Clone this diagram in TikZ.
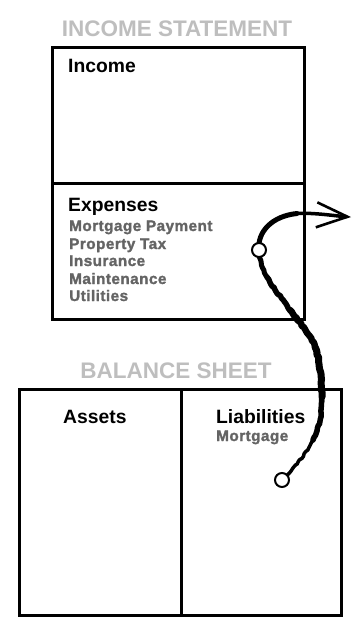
\documentclass[tikz,border=0pt]{standalone}
\usepackage{fontspec}
\setmainfont{Liberation Sans}
\newfontfamily\itemfont{Liberation Sans Bold}[FakeBold=1.6, LetterSpace=3]
\usetikzlibrary{arrows.meta,backgrounds,decorations.pathmorphing}
\definecolor{titlegray}{RGB}{190,190,190}
\definecolor{itemgray}{RGB}{100,100,100}
\tikzset{
  sheet/.style={draw, line width=3pt, inner sep=0pt, anchor=north west},
  title/.style={anchor=base, inner sep=0pt, text=titlegray, font=\fontsize{22.5}{23}\selectfont\bfseries},
  head/.style={anchor=base west, inner sep=0pt, font=\fontsize{19.3}{20}\selectfont\bfseries},
  item/.style={anchor=base west, inner sep=0pt, text=itemgray, font=\fontsize{15.3}{16}\selectfont\itemfont},
  dot/.style={circle, draw, fill=white, line width=2pt, minimum size=14pt, inner sep=0pt},
  flow/.style={line cap=round, line join=round},
  rough/.style={decorate, decoration={random steps, segment length=2.5pt, amplitude=0.6pt}},
  barb/.tip={Straight Barb[length=31pt, width=25pt, line width=2.6pt]}
}
\begin{document}
\begin{tikzpicture}[x=1pt, y=-1pt]
  \useasboundingbox (0,0) rectangle (364,627);

  % income statement
  \node[title] (istitle) at (177,36) {INCOME STATEMENT};
  \node[sheet, minimum width=252pt, minimum height=136pt] (income) at (51,46) {};
  \node[sheet, minimum width=252pt, minimum height=136pt] (expenses) at (51,182) {};
  \node[head] (inchead) at (68,72) {Income};
  \node[head] (exphead) at (68,211) {Expenses};
  \foreach \name/\txt/\y in {mpay/Mortgage Payment/231, ptax/Property Tax/249,
      ins/Insurance/266, maint/Maintenance/284, util/Utilities/301}
    \node[item] (\name) at (69,\y) {\txt};

  % balance sheet
  \node[title] (bstitle) at (176,378) {BALANCE SHEET};
  \node[sheet, minimum width=162pt, minimum height=226pt] (assets) at (18,388) {};
  \node[sheet, minimum width=160pt, minimum height=226pt] (liab) at (180,388) {};
  \node[head] (asshead) at (63,423) {Assets};
  \node[head] (liahead) at (216,423) {Liabilities};
  \node[item] (mortg) at (216,441) {Mortgage};

  % loan flow, thicker in the middle
  \node[dot] (mtg) at (282,480) {};
  \node[dot] (pay) at (259,250) {};
  \coordinate (f1) at (313,440);
  \coordinate (f2) at (322,397);
  \coordinate (f3) at (315,347);
  \coordinate (f4) at (290,310);
  \coordinate (f5) at (267,277);
  \coordinate (t1) at (297,213.5);
  \coordinate (out) at (351,217);
  \begin{pgfonlayer}{background}
    \draw[flow, rough, line width=3.5pt] (mtg.center) .. controls (295,467) and (306,454) .. (f1);
    \draw[flow, rough, line width=5.5pt] (f1) .. controls (320,426) and (322,412) .. (f2);
    \draw[flow, rough, line width=7pt] (f2) .. controls (322,381) and (320,361) .. (f3);
    \draw[flow, rough, line width=6.5pt] (f3) .. controls (310,332) and (298,322) .. (f4);
    \draw[flow, rough, line width=5.5pt] (f4) .. controls (282,298) and (272,287) .. (f5);
    \draw[flow, rough, line width=5pt] (f5) .. controls (262,267) and (260,259) .. (pay.center);
    \draw[flow, line width=5pt] (pay.center) .. controls (257,232) and (272,216) .. (t1);
    \draw[flow, line width=3.5pt, -barb] (t1) .. controls (315,212.5) and (335,216) .. (out);
  \end{pgfonlayer}
\end{tikzpicture}
\end{document}
